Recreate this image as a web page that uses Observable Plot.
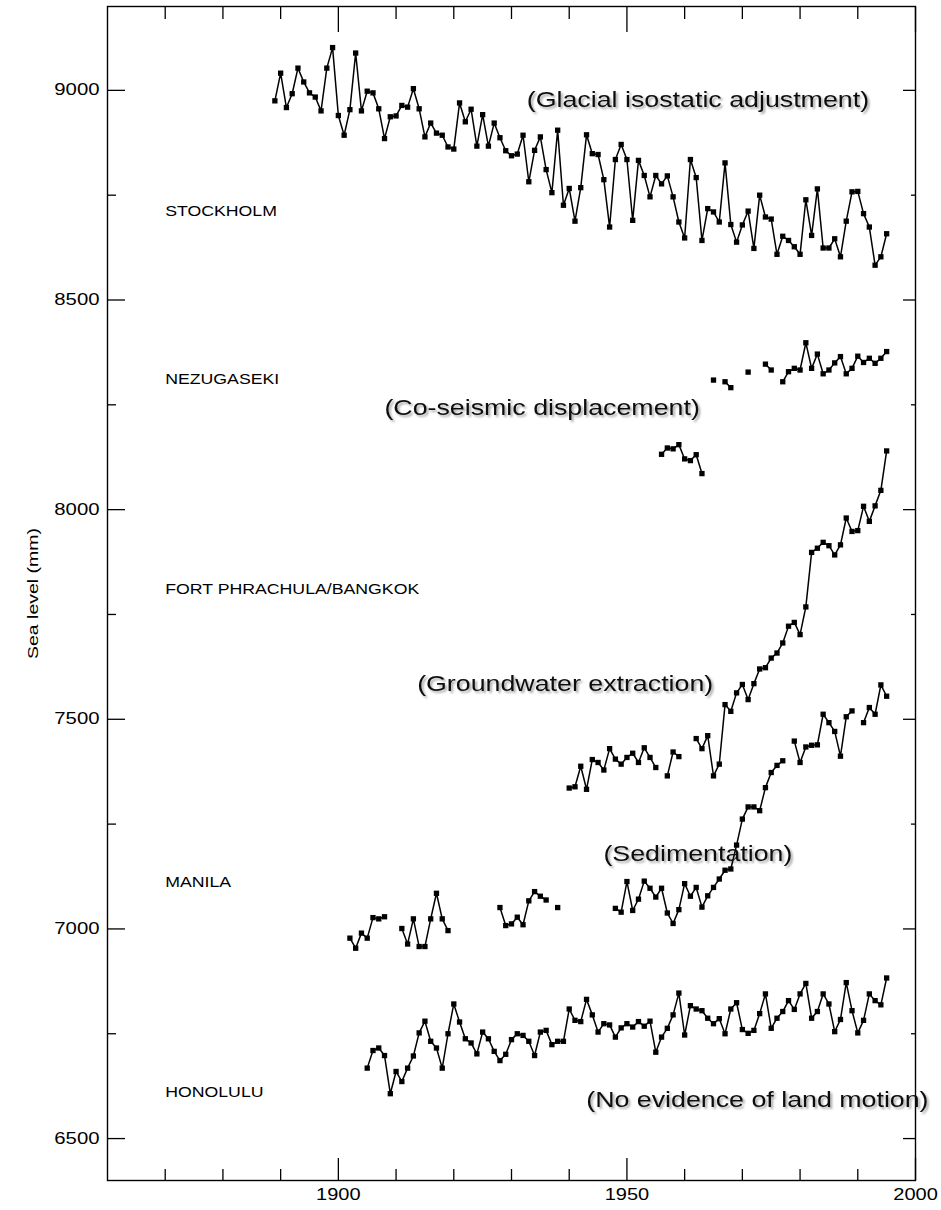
<!DOCTYPE html>
<html>
<head>
<meta charset="utf-8">
<script src="https://cdn.jsdelivr.net/npm/d3@7"></script>
<script src="https://cdn.jsdelivr.net/npm/@observablehq/plot@0.6"></script>
<style>
  html, body { margin: 0; padding: 0; background: #fff; }
  #chart svg { display: block; }
</style>
</head>
<body>
<div id="chart"></div>
<script>
// ---------- data (annual mean sea level, mm) ----------
const stockholmStart = 1889;
const stockholmValues = [
  8975, 9041, 8959, 8992, 9053, 9020, 8994, 8984, 8951, 9053, 9102,
  8940, 8893, 8954, 9089, 8951, 8998, 8994, 8956, 8885, 8937,
  8939, 8964, 8960, 9004, 8956, 8889, 8922, 8898, 8893, 8865,
  8860, 8970, 8925, 8955, 8867, 8942, 8867, 8922, 8887, 8856,
  8844, 8848, 8893, 8782, 8857, 8889, 8811, 8756, 8905, 8726,
  8766, 8688, 8768, 8894, 8849, 8847, 8787, 8674, 8835, 8871,
  8835, 8690, 8833, 8797, 8746, 8797, 8777, 8796, 8746, 8686,
  8648, 8835, 8792, 8642, 8718, 8710, 8686, 8827, 8680, 8638,
  8679, 8712, 8623, 8750, 8698, 8693, 8609, 8652, 8642, 8627,
  8609, 8739, 8654, 8765, 8624, 8624, 8646, 8603, 8688, 8758,
  8759, 8706, 8674, 8583, 8603, 8658
];

const nezugasekiStart = 1956;
const nezugasekiValues = [
  8132, 8147, 8145, 8155, 8121, 8117, 8131, 8086, null, 8309,
  null, 8305, 8291, null, null, 8328, null, null, 8347, 8333,
  null, 8305, 8329, 8337, 8333, 8398, 8337, 8371, 8324, 8333,
  8350, 8365, 8324, 8337, 8366, 8351, 8361, 8349, 8361, 8377
];

const bangkokStart = 1940;
const bangkokValues = [
  7336, 7339, 7388, 7333, 7404, 7397, 7379, 7430, 7405, 7393,
  7409, 7419, 7397, 7432, 7409, 7385, null, 7365, 7422, 7411,
  null, null, 7454, 7430, 7461, 7365, 7393, 7535, 7519, 7563,
  7583, 7547, 7585, 7620, 7623, 7646, 7658, 7682, 7722, 7731,
  7702, 7768, 7898, 7908, 7922, 7914, 7892, 7916, 7980, 7948,
  7950, 8008, 7972, 8009, 8046, 8140
];

const manilaStart = 1902;
const manilaValues = [
  6978, 6954, 6990, 6978, 7027, 7024, 7029, null, null, 7001,
  6964, 7024, 6958, 6958, 7024, 7085, 7024, 6996, null, null,
  null, null, null, null, null, null, 7051, 7008, 7012, 7028,
  7010, 7067, 7089, 7078, 7069, null, 7051, null, null, null,
  null, null, null, null, null, null, 7049, 7040, 7113, 7044,
  7071, 7114, 7097, 7076, 7097, 7038, 7013, 7046, 7108, 7078,
  7099, 7052, 7079, 7099, 7119, 7140, 7143, 7200, 7262, 7291,
  7291, 7282, 7337, 7373, 7390, 7401, null, 7448, 7397, 7434,
  7438, 7439, 7512, 7492, 7471, 7412, 7506, 7520, null, 7492,
  7528, 7512, 7582, 7555
];

const honoluluStart = 1905;
const honoluluValues = [
  6668, 6710, 6716, 6698, 6607, 6660, 6636, 6668, 6697, 6752,
  6780, 6732, 6716, 6668, 6750, 6821, 6778, 6738, 6728, 6702,
  6754, 6738, 6708, 6686, 6701, 6736, 6750, 6746, 6732, 6698,
  6754, 6758, 6724, 6732, 6732, 6809, 6782, 6779, 6832, 6795,
  6754, 6774, 6771, 6742, 6764, 6774, 6766, 6779, 6768, 6780,
  6706, 6742, 6763, 6795, 6847, 6747, 6817, 6809, 6805, 6787,
  6774, 6786, 6750, 6809, 6824, 6760, 6751, 6758, 6798, 6845,
  6763, 6787, 6803, 6829, 6808, 6845, 6870, 6787, 6803, 6845,
  6821, 6755, 6784, 6872, 6805, 6752, 6782, 6845, 6829, 6819,
  6883
];

// station labels
const stationNames = ["STOCKHOLM", "NEZUGASEKI", "FORT PHRACHULA/BANGKOK", "MANILA", "HONOLULU"];
const stationLabelYear = 1870;
const stationLabelLevels = [8700, 8300, 7800, 7100, 6600];

// annotations
const noteTexts = [
  "(Glacial isostatic adjustment)",
  "(Co-seismic displacement)",
  "(Groundwater extraction)",
  "(Sedimentation)",
  "(No evidence of land motion)"
];
const noteYears = [1962.3, 1935.3, 1939.3, 1962.3, 1972.6];
const noteLevels = [8978, 8244, 7585, 7180, 6593];

// axes
const xDomain = [1860, 2000];
const yDomain = [6400, 9200];
const xMajorTicks = [1900, 1950, 2000];
const xMinorTicks = [1870, 1880, 1890, 1910, 1920, 1930, 1940, 1960, 1970, 1980, 1990];
const yMajorTicks = [6500, 7000, 7500, 8000, 8500, 9000];
const yMinorTicks = [6750, 7250, 7750, 8250, 8750];
const yAxisTitle = "Sea level (mm)";

// ---------- build tables ----------
function toRows(station, start, values) {
  return values.map((v, i) => ({station, year: start + i, value: v}));
}
const rows = [
  ...toRows("STOCKHOLM", stockholmStart, stockholmValues),
  ...toRows("NEZUGASEKI", nezugasekiStart, nezugasekiValues),
  ...toRows("BANGKOK", bangkokStart, bangkokValues),
  ...toRows("MANILA", manilaStart, manilaValues),
  ...toRows("HONOLULU", honoluluStart, honoluluValues)
];
const labelRows = stationNames.map((name, i) => ({name, year: stationLabelYear, value: stationLabelLevels[i]}));
const noteRows = noteTexts.map((text, i) => ({text, year: noteYears[i], value: noteLevels[i]}));

const font = "'Liberation Sans', Arial, sans-serif";
const blank = () => "";

const svg = Plot.plot({
  width: 941,
  height: 1210,
  marginLeft: 107,
  marginRight: 26,
  marginTop: 6,
  marginBottom: 30,
  x: {domain: xDomain},
  y: {domain: yDomain},
  style: {fontFamily: font, background: "#fff", color: "#000", overflow: "visible"},
  marks: [
    // inward ticks
    Plot.axisX({anchor: "bottom", ticks: xMajorTicks, tickSize: -22, tickFormat: blank, label: null, strokeWidth: 1.3}),
    Plot.axisX({anchor: "bottom", ticks: xMinorTicks, tickSize: -11, tickFormat: blank, label: null, strokeWidth: 1.3}),
    Plot.axisX({anchor: "top", ticks: xMajorTicks, tickSize: -25, tickFormat: blank, label: null, strokeWidth: 1.3}),
    Plot.axisX({anchor: "top", ticks: xMinorTicks, tickSize: -12, tickFormat: blank, label: null, strokeWidth: 1.3}),
    Plot.axisY({anchor: "left", ticks: yMajorTicks, tickSize: -18, tickFormat: blank, label: null, strokeWidth: 1.3}),
    Plot.axisY({anchor: "left", ticks: yMinorTicks, tickSize: -9, tickFormat: blank, label: null, strokeWidth: 1.3}),
    Plot.axisY({anchor: "right", ticks: yMajorTicks, tickSize: -13, tickFormat: blank, label: null, strokeWidth: 1.3}),
    Plot.axisY({anchor: "right", ticks: yMinorTicks, tickSize: -5, tickFormat: blank, label: null, strokeWidth: 1.3}),
    // tick labels
    Plot.axisX({anchor: "bottom", ticks: xMajorTicks, tickSize: 0, tickPadding: 8, tickFormat: d => String(d), label: null, fontSize: 16, ariaDescription: "xlabels"}),
    Plot.axisY({anchor: "left", ticks: yMajorTicks, tickSize: 0, tickPadding: 8, tickFormat: d => String(d), label: null, fontSize: 16, ariaDescription: "ylabels"}),
    Plot.frame({stroke: "#000", strokeWidth: 1.4}),
    // y axis title
    Plot.text([yAxisTitle], {frameAnchor: "left", textAnchor: "middle", rotate: -90, dx: -74, fontSize: 15, fill: "#000", ariaDescription: "ytitle"}),
    // series
    Plot.line(rows, {x: "year", y: "value", z: "station", stroke: "#000", strokeWidth: 1.5}),
    Plot.dot(rows, {x: "year", y: "value", symbol: "square", r: 3, fill: "#000", stroke: "none"}),
    // station labels
    Plot.text(labelRows, {x: "year", y: "value", text: "name", textAnchor: "start", lineAnchor: "bottom", fontSize: 14.5, fill: "#000", ariaDescription: "stations"}),
    // annotations
    Plot.text(noteRows, {x: "year", y: "value", text: "text", textAnchor: "middle", lineAnchor: "middle", fontSize: 22.5, fill: "#111", ariaDescription: "notes"})
  ]
});

document.getElementById("chart").appendChild(svg);

// horizontal stretch of glyphs, as in the reference
const stretch = {xlabels: 1.25, ylabels: 1.27, ytitle: 1.3, stations: 1.22, notes: 1.19};
Object.entries(stretch).forEach(([key, k]) => {
  svg.querySelectorAll(`g[aria-description="${key}"] text`).forEach(t => {
    const w = t.getComputedTextLength();
    if (w > 0) {
      t.setAttribute("textLength", (w * k).toFixed(1));
      t.setAttribute("lengthAdjust", "spacingAndGlyphs");
    }
  });
});

// soft drop shadow under annotations
const ns = "http://www.w3.org/2000/svg";
const defs = document.createElementNS(ns, "defs");
defs.innerHTML = '<filter id="noteShadow" x="-10%" y="-40%" width="120%" height="180%"><feDropShadow dx="2" dy="2" stdDeviation="1.3" flood-color="#000" flood-opacity="0.35"/></filter>';
svg.insertBefore(defs, svg.firstChild);
const notesG = svg.querySelector('g[aria-description="notes"]');
if (notesG) notesG.setAttribute("filter", "url(#noteShadow)");
</script>
</body>
</html>
